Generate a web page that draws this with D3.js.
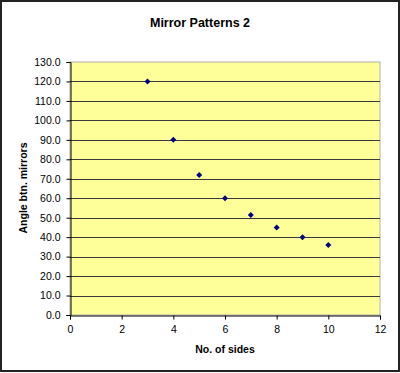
<!DOCTYPE html>
<html>
<head>
<meta charset="utf-8">
<script src="https://cdn.jsdelivr.net/npm/d3@7"></script>
<style>
  body { margin: 0; background: #fff; }
  svg { display: block; font-family: "Liberation Sans", Arial, sans-serif; }
</style>
</head>
<body>
<svg id="chart" width="400" height="373"></svg>
<script>
// data
const sides = [3, 4, 5, 6, 7, 8, 9, 10];
const angles = [120, 90, 72, 60, 51.4, 45, 40, 36];
const xTicks = [0, 2, 4, 6, 8, 10, 12];
const yTicks = [0, 10, 20, 30, 40, 50, 60, 70, 80, 90, 100, 110, 120, 130];

const svg = d3.select("#chart");
const W = +svg.attr("width"), H = +svg.attr("height");
const plot = { left: 70, right: 380, top: 62, bottom: 315 };

// outer frame
svg.append("rect")
    .attr("x", 1).attr("y", 1).attr("width", W - 2).attr("height", H - 3)
    .attr("fill", "#fff").attr("stroke", "#222").attr("stroke-width", 2);

const x = d3.scaleLinear().domain([0, 12]).range([plot.left, plot.right]);
const y = d3.scaleLinear().domain([0, 130]).range([plot.bottom, plot.top]);

// plot area
svg.append("rect")
    .attr("x", plot.left).attr("y", plot.top)
    .attr("width", plot.right - plot.left).attr("height", plot.bottom - plot.top)
    .attr("fill", "#ffff99").attr("stroke", "#b0b0b0").attr("stroke-width", 1);

// gridlines
svg.append("g").selectAll("line")
    .data(yTicks.filter(d => d > 0 && d < 130))
    .join("line")
    .attr("x1", plot.left).attr("x2", plot.right)
    .attr("y1", d => Math.round(y(d)) + 0.5).attr("y2", d => Math.round(y(d)) + 0.5)
    .attr("stroke", "#3a3a3a").attr("stroke-width", 1);

// axes
const xAxis = svg.append("g")
    .attr("transform", `translate(0,${plot.bottom + 0.5})`)
    .call(d3.axisBottom(x).tickValues(xTicks).tickSizeOuter(0).tickSize(4).tickPadding(6));
const yAxis = svg.append("g")
    .attr("transform", `translate(${plot.left + 0.5},0)`)
    .call(d3.axisLeft(y).tickValues(yTicks).tickFormat(d3.format(".1f")).tickSizeOuter(0).tickSize(4).tickPadding(6));

[xAxis, yAxis].forEach(g => {
  g.select(".domain").attr("stroke", "#000");
  g.selectAll(".tick line").attr("stroke", "#000");
  g.selectAll("text").attr("fill", "#000").attr("font-size", 10.5)
      .attr("font-family", "'Liberation Sans', Arial, sans-serif");
});

// points
svg.append("g").selectAll("path")
    .data(sides.map((s, i) => [s, angles[i]]))
    .join("path")
    .attr("transform", d => `translate(${x(d[0])},${y(d[1])})`)
    .attr("d", "M0,-3L3,0L0,3L-3,0Z")
    .attr("fill", "#000080");

// titles
svg.append("text")
    .attr("x", 200).attr("y", 27).attr("text-anchor", "middle")
    .attr("font-size", 12.5).attr("font-weight", "bold")
    .text("Mirror Patterns 2");

svg.append("text")
    .attr("x", 225).attr("y", 353).attr("text-anchor", "middle")
    .attr("font-size", 10.5).attr("font-weight", "bold")
    .text("No. of sides");

svg.append("text")
    .attr("transform", "translate(27,188) rotate(-90)")
    .attr("text-anchor", "middle")
    .attr("font-size", 10.5).attr("font-weight", "bold")
    .text("Angle btn. mirrors");
</script>
</body>
</html>
